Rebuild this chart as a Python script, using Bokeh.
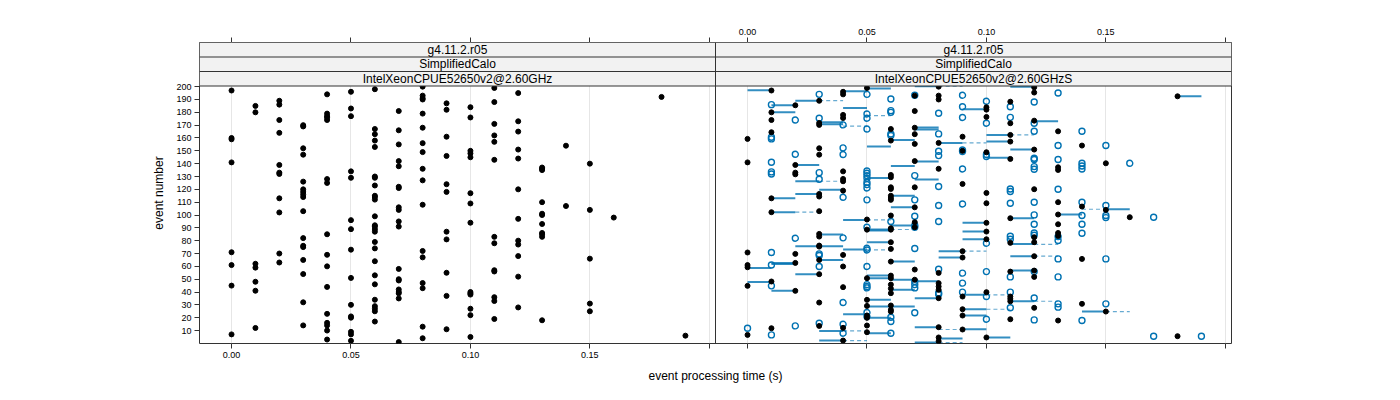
from bokeh.plotting import figure
from bokeh.models import (FixedTicker, CustomJSTickFormatter, LinearAxis, Span,
                          BoxAnnotation, Label, Range1d)
from bokeh.embed import file_html
from bokeh.resources import INLINE

# ---------------- data ----------------
time_bins = [0.00, 0.01, 0.02, 0.03, 0.04, 0.05, 0.06, 0.07, 0.08, 0.09,
             0.10, 0.11, 0.12, 0.13, 0.14, 0.15, 0.16, 0.17, 0.18, 0.19]

# left panel: IntelXeonCPUE52650v2@2.60GHz (events per time bin)
ref_events = [
    [197, 160, 159, 141, 71, 61, 45, 7],
    [185, 180, 62, 59, 48, 41, 12],
    [189, 186, 174, 164, 139, 133, 132, 113, 102, 70, 63],
    [170, 169, 152, 147, 126, 120, 118, 116, 114, 103, 82, 76, 75, 65, 54, 32, 14],
    [194, 179, 177, 176, 174, 128, 125, 85, 69, 60, 44, 23, 16, 14, 10, 3],
    [196, 183, 177, 134, 129, 96, 89, 73, 51, 30, 21, 20, 9, 7, 2],
    [198, 167, 163, 158, 153, 130, 129, 123, 115, 114, 112, 99, 92, 91, 89, 87, 79, 74, 64, 53, 46, 34, 29, 27, 25, 17],
    [181, 166, 155, 142, 138, 122, 121, 106, 104, 95, 91, 58, 50, 49, 42, 40, 39, 35, 1],
    [200, 193, 191, 190, 179, 168, 156, 149, 136, 127, 108, 72, 67, 47, 43, 13, 4],
    [187, 182, 161, 146, 124, 118, 87, 81, 55, 37, 11],
    [184, 176, 150, 148, 145, 117, 109, 94, 40, 39, 38, 27, 22, 5],
    [199, 188, 171, 162, 157, 143, 83, 78, 57, 56, 36, 33, 19],
    [195, 173, 165, 151, 144, 120, 97, 80, 77, 68, 52, 28],
    [137, 136, 135, 110, 101, 100, 93, 86, 85, 83, 18],
    [154, 107],
    [140, 104, 66, 31, 25],
    [98],
    [],
    [192],
    [6],
]

# right panel: IntelXeonCPUE52650v2@2.60GHzS, black points
cmp_events = [
    [159.3, 141, 70.8, 61, 59.3, 44.8, 6.6],
    [197, 180, 174, 164.5, 113, 102.2, 48.2, 11.8],
    [185.5, 139, 133, 131.7, 69.7, 62.7, 40.9],
    [189, 171.7, 170.2, 152, 147, 116.4, 114.4, 103, 85.3, 83.2, 76.2, 75.4, 65, 53.9, 31.8, 13.6],
    [196, 194, 178, 175.6, 134, 128.1, 126.3, 119, 68.9, 59.9, 43.8, 12.1, 2.2],
    [199, 96.5, 88.6, 50.8, 33.9, 29.2, 21.7, 19.9, 13.9, 8.7],
    [167, 158, 131.2, 129.4, 121.6, 120.3, 115, 113.3, 111.8, 99.6, 89.7, 88.6, 78.8, 73.6, 63.7, 52.8, 50.8, 45.8, 42.7, 39.1, 29.5, 26.1, 24.8],
    [193, 181, 168, 163, 155.4, 142, 121.6, 106, 94.4, 90.5, 57.5, 49.6],
    [200, 193, 190, 156.2, 136, 54.9, 46.9, 44.3, 41.7, 35.2, 12.6, 4.6, 1.7],
    [161, 150, 124.2, 71.8, 66.9, 36.5, 26.6, 21.7, 10.8],
    [183.9, 182.1, 176.4, 148.9, 117.2, 109.2, 93.9, 87.1, 81.1, 39.9, 4.6],
    [188.3, 171.5, 162.4, 157.2, 143.7, 97.5, 78.3, 55.9, 36.5, 34.7, 32.8, 18.8],
    [199.5, 195.4, 173.5, 151, 120.1, 82.7, 78.8, 67.9, 56.7, 51.8, 27.7],
    [165.2, 137.2, 135.1, 110, 100.4, 92.8, 86, 83.7, 17.8],
    [154.1, 106.6, 65.8, 30.8],
    [140.3, 104, 24.8],
    [98.3],
    [],
    [192.5, 5.6],
    [],
]

# right panel: blue open circles
alt_events = [
    [11.8],
    [186, 160.6, 159.3, 141.1, 133.6, 132, 70.8, 61.1, 44.8, 6.6],
    [174, 147.3, 81.9, 13.6],
    [194, 175.4, 133, 127.9, 69.7, 68.4, 59.9, 15.7],
    [170.2, 152.3, 147.1, 113.8, 82.2, 31.8, 14.9, 7.9],
    [194, 178.7, 175.4, 167, 134.3, 132.5, 130.7, 128.6, 125.5, 123.7, 121.1, 111.8, 90.5, 74.1, 72.8, 59.9, 45.8, 44.3, 43.2, 24, 20.9],
    [190.4, 181.3, 180, 163.2, 161.9, 94.9, 20.4, 17, 7.9],
    [193.3, 130.7, 111.8, 99, 91.8, 90.5, 73.9, 48.2, 45.8, 43.2, 23.8],
    [179.3, 163.2, 149.7, 146.3, 122.2, 107.4, 94.9, 57.7, 39.3, 38.3],
    [193.3, 184.4, 176, 150.7, 149.4, 135.9, 108.6, 54.7, 46.9, 39.9],
    [188.6, 171.5, 147.1, 145.5, 78, 55.9, 36.5, 18.8],
    [184.4, 176.1, 120.3, 118.3, 109.2, 83.5, 81.1, 51.8, 39.9, 27.7],
    [188, 171.5, 165.2, 144.2, 143.2, 137.7, 135.6, 110, 100.1, 92.8, 86, 84.2, 55.9, 35.4, 18.3],
    [195.1, 154.1, 143.2, 120.1, 83.2, 80.1, 65.8, 51.8, 30.8, 28.2],
    [165.2, 140.3, 138.2, 135.9, 110, 99.6, 92.8, 85.8, 17.8],
    [154.1, 107.4, 99.6, 98, 65.8, 30.8],
    [140.3],
    [98.3, 5.6],
    [],
    [5.6],
]

# right panel: solid connecting segments
seg_from = [0.00, 0.04, 0.05, 0.07, 0.02, 0.01, 0.04, 0.09, 0.01, 0.03,
            0.03, 0.07, 0.07, 0.06, 0.08, 0.05, 0.07, 0.06, 0.02, 0.05,
            0.07, 0.02, 0.03, 0.02, 0.06, 0.06, 0.01, 0.01, 0.04, 0.06,
            0.05, 0.05, 0.09, 0.09, 0.09, 0.03, 0.05, 0.02, 0.04, 0.03,
            0.08, 0.08, 0.06, 0.00, 0.01, 0.01, 0.02, 0.05, 0.05, 0.06,
            0.07, 0.00, 0.01, 0.06, 0.07, 0.05, 0.05, 0.04, 0.05, 0.03,
            0.05, 0.07, 0.07, 0.08, 0.03, 0.09, 0.09, 0.09, 0.09, 0.11,
            0.18, 0.12, 0.10, 0.10, 0.11, 0.10, 0.15, 0.13, 0.11, 0.11,
            0.11, 0.11, 0.11, 0.14, 0.10]
seg_to = [0.01, 0.05, 0.06, 0.08, 0.03, 0.02, 0.05, 0.10, 0.02, 0.04,
          0.04, 0.08, 0.08, 0.07, 0.09, 0.06, 0.08, 0.07, 0.03, 0.06,
          0.08, 0.03, 0.04, 0.03, 0.07, 0.07, 0.02, 0.02, 0.05, 0.07,
          0.06, 0.06, 0.10, 0.10, 0.10, 0.04, 0.06, 0.04, 0.05, 0.04,
          0.09, 0.09, 0.07, 0.01, 0.02, 0.02, 0.03, 0.06, 0.06, 0.07,
          0.08, 0.01, 0.02, 0.07, 0.08, 0.06, 0.07, 0.05, 0.06, 0.04,
          0.06, 0.08, 0.08, 0.09, 0.04, 0.10, 0.10, 0.10, 0.10, 0.12,
          0.19, 0.13, 0.11, 0.11, 0.12, 0.11, 0.16, 0.14, 0.12, 0.12,
          0.12, 0.12, 0.12, 0.15, 0.11]
seg_event = [197.2, 196.4, 198.5, 200.3, 189.1, 185.5, 183.4, 182.3, 180.0, 172.2,
             170.7, 168.1, 166.6, 158.5, 156.2, 153.3, 141.6, 138.2, 139.0, 128.9,
             127.6, 126.3, 119.6, 116.4, 115.1, 106.0, 113.0, 102.2, 96.2, 91.8,
             88.7, 88.0, 93.9, 87.1, 81.1, 84.8, 78.8, 75.6, 73.1, 65.0,
             71.8, 66.9, 63.7, 58.8, 62.7, 61.9, 53.9, 52.8, 50.8, 49.6,
             48.4, 47.9, 40.9, 41.7, 35.2, 33.9, 28.7, 22.7, 19.9, 9.7,
             7.9, 12.6, 0.6, 3.8, 2.2, 37.8, 26.6, 21.7, 11.0, 199.9,
             192.5, 173.0, 162.4, 157.2, 151.0, 144.7, 104.5, 100.4, 97.5, 77.5,
             67.9, 56.7, 32.8, 24.8, 4.6]

# right panel: dashed connecting segments
dash_from = [0.08, 0.03, 0.05, 0.04, 0.09, 0.03, 0.05, 0.02, 0.06, 0.05, 0.09, 0.04,
             0.04, 0.08, 0.08, 0.11, 0.14, 0.12, 0.12, 0.10, 0.12, 0.10, 0.15]
dash_to = [0.09, 0.04, 0.06, 0.05, 0.10, 0.04, 0.06, 0.03, 0.07, 0.06, 0.10, 0.05,
           0.05, 0.09, 0.09, 0.12, 0.15, 0.13, 0.13, 0.11, 0.13, 0.11, 0.16]
dash_event = [200.3, 189.1, 177.5, 169.2, 156.2, 126.3, 96.2, 102.2, 88.7, 72.8, 71.8, 9.7,
              2.2, 10.8, 0.6, 162.4, 104.5, 77.2, 67.9, 37.8, 32.8, 26.6, 24.8]

x_ticks = [0.00, 0.05, 0.10, 0.15, 0.20]
y_ticks = [10, 20, 30, 40, 50, 60, 70, 80, 90, 100,
           110, 120, 130, 140, 150, 160, 170, 180, 190, 200]
strip_levels = ["g4.11.2.r05", "SimplifiedCalo"]
panel_names = ["IntelXeonCPUE52650v2@2.60GHz", "IntelXeonCPUE52650v2@2.60GHzS"]

# ---------------- layout ----------------
FONT = "Liberation Sans"
X0 = -0.01341            # left edge of a panel (data units)
PW = 0.2160              # panel width (data units)
OFF = PW                 # x offset of second panel
Y0, YTOP = -0.1, 200.5   # data extent of the panel
SH = 11.3                # strip height (data units)
BLUE = "#0072B2"


def flatten(groups, shift=0.0):
    xs, ys = [], []
    for t, evs in zip(time_bins, groups):
        xs += [t + shift] * len(evs)
        ys += list(evs)
    return xs, ys


p = figure(width=1392, height=392,
           x_range=Range1d(X0, X0 + 2 * PW), y_range=Range1d(Y0, YTOP + 3 * SH),
           output_backend="svg", toolbar_location=None,
           min_border_left=199, min_border_right=161,
           min_border_top=42, min_border_bottom=49)
p.background_fill_color = "white"
p.border_fill_color = "white"
p.outline_line_color = "#333333"
p.outline_line_width = 1

all_xticks = x_ticks + [t + OFF for t in x_ticks]
ticker = FixedTicker(ticks=all_xticks)

xa = p.xaxis[0]
xa.ticker = ticker
xa.formatter = CustomJSTickFormatter(code="return (tick < 0.19) ? tick.toFixed(2) : '';")
xa.axis_label = "event processing time (s)"

top = LinearAxis(ticker=ticker,
                 formatter=CustomJSTickFormatter(args=dict(off=OFF), code="""
    let t = tick - off;
    if (Math.abs(t) < 1e-9) t = 0;
    return (t > -0.001 && t < 0.19) ? t.toFixed(2) : '';
"""))
p.add_layout(top, "above")

ya = p.yaxis[0]
ya.ticker = FixedTicker(ticks=y_ticks)
ya.axis_label = "event number"

for ax in [xa, top, ya]:
    ax.axis_line_color = None
    ax.major_tick_in = 0
    ax.major_tick_out = 5
    ax.major_tick_line_color = "#333333"
    ax.minor_tick_line_color = None
    ax.major_label_text_font = FONT
    ax.major_label_text_font_size = "9px"
    ax.major_label_text_color = "black"
    ax.major_label_standoff = 3
    ax.axis_label_text_font = FONT
    ax.axis_label_text_font_size = "12px"
    ax.axis_label_text_font_style = "normal"
    ax.axis_label_text_color = "black"
xa.axis_label_standoff = 8
ya.axis_label_standoff = 7

p.xgrid.ticker = ticker
p.xgrid.grid_line_color = "#e6e6e6"
p.ygrid.grid_line_color = None

# ---------------- glyphs ----------------
rx, ry = flatten(ref_events)
kx, ky = flatten(cmp_events, OFF)
bx, by = flatten(alt_events, OFF)

p.segment(x0=[v + OFF for v in dash_from], y0=dash_event,
          x1=[v + OFF for v in dash_to], y1=dash_event,
          line_color=BLUE, line_width=1.2, line_alpha=0.6, line_dash="4 3")
p.segment(x0=[v + OFF for v in seg_from], y0=seg_event,
          x1=[v + OFF for v in seg_to], y1=seg_event,
          line_color=BLUE, line_width=2, line_alpha=0.8)
p.scatter(bx, by, marker="circle", size=6, fill_color=None,
          line_color=BLUE, line_width=1.4)
p.scatter(kx, ky, marker="circle", size=5, color="black")
p.scatter(rx, ry, marker="circle", size=5, color="black")

# ---------------- strips ----------------
p.add_layout(BoxAnnotation(bottom=YTOP, fill_color="#f2f2f2", fill_alpha=1,
                           line_alpha=0))
for k in range(3):
    p.add_layout(Span(location=YTOP + k * SH, dimension="width",
                      line_color="#333333", line_width=1))
p.add_layout(Span(location=X0 + PW, dimension="height",
                  line_color="#333333", line_width=1))

for j in range(2):
    cx = X0 + PW / 2 + j * OFF
    texts = [panel_names[j], strip_levels[1], strip_levels[0]]
    for k, t in enumerate(texts):
        p.add_layout(Label(x=cx, y=YTOP + (k + 0.5) * SH, text=t,
                           text_align="center", text_baseline="middle",
                           text_font=FONT, text_font_size="12px",
                           text_color="black"))

open("out.html", "w").write(file_html(p, INLINE))
